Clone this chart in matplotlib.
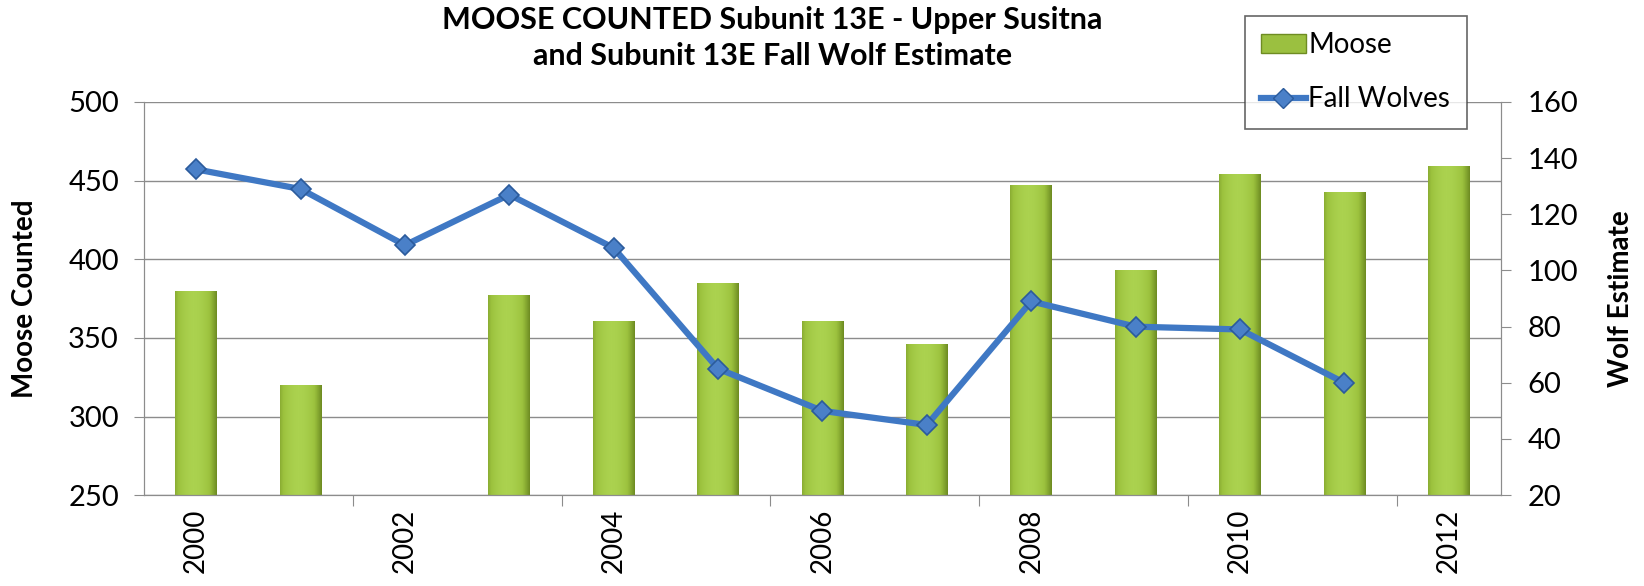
import matplotlib
matplotlib.use("Agg")
import matplotlib.pyplot as plt
import numpy as np
from matplotlib.lines import Line2D
from matplotlib.patches import Patch

years = [2000, 2001, 2002, 2003, 2004, 2005, 2006, 2007, 2008, 2009, 2010, 2011, 2012]
moose = [380, 320, np.nan, 377, 361, 385, 361, 346, 447, 393, 454, 443, 459]
wolves = [136, 129, 109, 127, 108, 65, 50, 45, 89, 80, 79, 60, np.nan]
tick_labels = ["2000", "2002", "2004", "2006", "2008", "2010", "2012"]

font = ['Lato', 'DejaVu Sans']
plt.rcParams['font.family'] = font

fig = plt.figure(figsize=(16.44, 5.86), dpi=100)
ax = fig.add_axes([0.0876, 0.155, 0.8254, 0.671])
ax2 = ax.twinx()

x = np.arange(len(years))
bw = 0.4
ax.set_ylim(250, 500)
ax.set_xlim(-0.5, len(years) - 0.5)

# gradient bars
grad = np.linspace(0, 1, 64)
shade = 1 - (2 * np.abs(grad - 0.45)) ** 1.8
cmap = matplotlib.colors.LinearSegmentedColormap.from_list('g', ['#6e8c22', '#9cc23e', '#abd24f'])
img = np.tile(shade, (2, 1))
bars = ax.bar(x, moose, width=bw, color='#9bc040', edgecolor='none', zorder=2)
for b, v in zip(bars, moose):
    if np.isnan(v):
        continue
    x0 = b.get_x()
    im = ax.imshow(img, cmap=cmap, aspect='auto', extent=[x0, x0 + bw, 250, v],
                   zorder=2.1, interpolation='bilinear')
    im.set_clip_path(b)

ax.set_yticks(np.arange(250, 501, 50))
ax.grid(axis='y', color='#8c8c8c', linewidth=1.0, zorder=0)
ax.set_axisbelow(True)

ax.set_xticks(np.arange(1.5, len(years), 2), minor=False)
ax.set_xticklabels([])
ax.set_xticks(x[::2], minor=True)
ax.set_xticklabels(tick_labels, minor=True, rotation=90, fontsize=20)
ax.tick_params(axis='x', which='minor', length=0, pad=10)
ax.tick_params(axis='x', which='major', length=8, color='#8c8c8c')
ax.tick_params(axis='y', labelsize=21, length=7, color='#8c8c8c', pad=11)

for s in ['top']:
    ax.spines[s].set_visible(False)
    ax2.spines[s].set_visible(False)
for s in ['left', 'bottom', 'right']:
    ax.spines[s].set_color('#8c8c8c')
    ax2.spines[s].set_color('#8c8c8c')

ax2.set_ylim(20, 160)
ax2.set_yticks(np.arange(20, 161, 20))
ax2.tick_params(axis='y', labelsize=21, length=7, color='#8c8c8c', pad=12)
ax2.plot(x, wolves, color='#3f78c4', linewidth=4.5, marker='D', markersize=10,
         markerfacecolor='#4a80c8', markeredgecolor='#2b5b9c', markeredgewidth=1.2, zorder=5)

ax.set_ylabel('Moose Counted', fontsize=20, fontweight='bold')
ax2.set_ylabel('Wolf Estimate', fontsize=20, fontweight='bold')
ax.yaxis.set_label_coords(-0.078, 0.5)
ax2.yaxis.set_label_coords(1.079, 0.5)

fig.text(0.47, 0.99, 'MOOSE COUNTED Subunit 13E - Upper Susitna\nand Subunit 13E Fall Wolf Estimate',
         ha='center', va='top', fontsize=22, fontweight='bold', linespacing=1.35)

handles = [Patch(facecolor='#9bc040', edgecolor='#6e8c22'),
           Line2D([0], [0], color='#3f78c4', linewidth=4.5, marker='D', markersize=10,
                  markerfacecolor='#4a80c8', markeredgecolor='#2b5b9c')]
leg = fig.legend(handles, ['Moose', 'Fall Wolves'], loc='upper left',
                 bbox_to_anchor=(0.757, 0.973), borderaxespad=0, frameon=True, fancybox=False,
                 prop={'size': 20}, handlelength=1.6,
                 handletextpad=0.1, labelspacing=1.0, borderpad=0.6)
leg.get_frame().set_edgecolor('#404040')
leg.get_frame().set_linewidth(1.2)
leg.set_zorder(10)

fig.savefig('out.png', dpi=100)
